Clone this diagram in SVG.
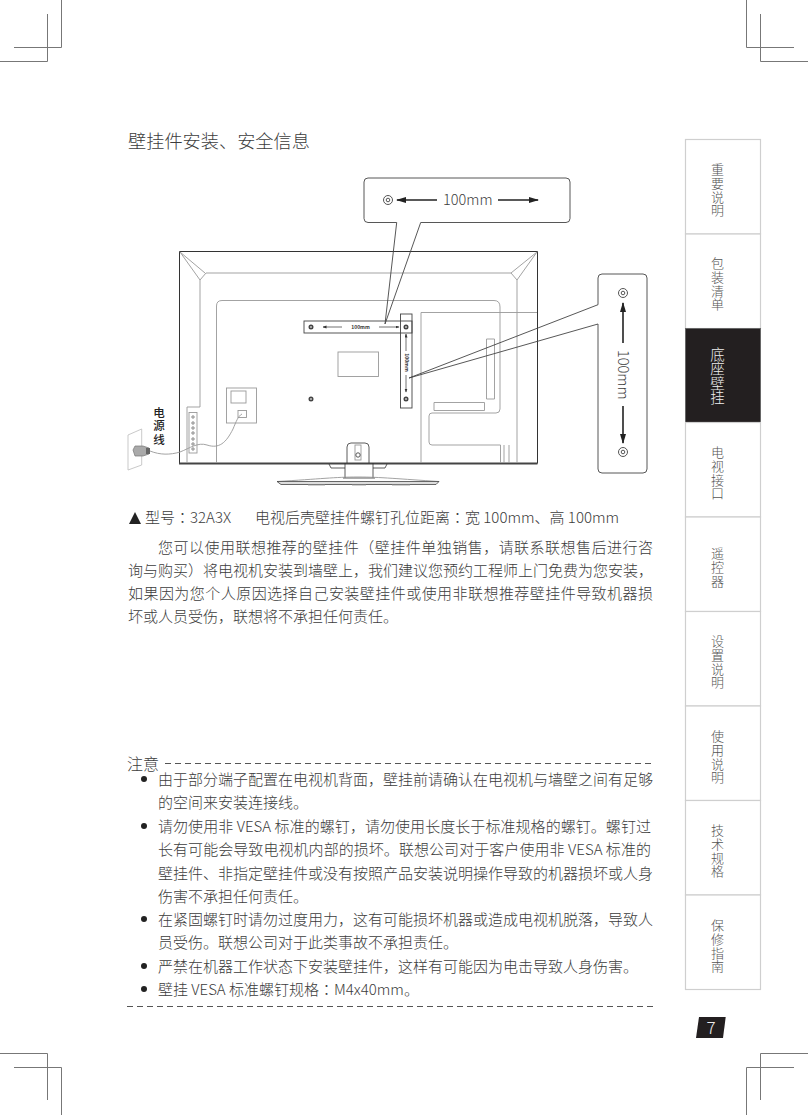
<svg xmlns="http://www.w3.org/2000/svg" width="808" height="1115" viewBox="0 0 808 1115">
<style>
text{font-family:"Noto Sans CJK SC","Noto Sans",sans-serif;fill:#3c3c3c;font-size:15px;font-weight:300}
.crop{fill:none;stroke:#777;stroke-width:1}
.tab{fill:#fff;stroke:#cfcfcf;stroke-width:1.2}
.tabt{font-size:13px;fill:#555;writing-mode:vertical-rl;letter-spacing:.65px}
.tc{font-family:"Noto Sans CJK TC","Noto Sans",sans-serif}
.tv{fill:none;stroke:#999;stroke-width:.9}
.tvd{fill:none;stroke:#333;stroke-width:1}
.call{fill:none;stroke:#444;stroke-width:.9}
.arr{stroke:#222;stroke-width:1.6;fill:none}
.arrs{stroke:#333;stroke-width:.7;fill:none}
.dash{stroke:#555;stroke-width:1;stroke-dasharray:6 4;fill:none}
.sc{fill:none;stroke:#555}
.mini{font-size:5px;font-weight:700;text-anchor:middle;fill:#333}
.bul{fill:#222}
.scw{fill:#bbb;stroke:#444;stroke-width:1.400}
</style>
<defs>
<marker id="ah" markerWidth="10" markerHeight="8" refX="9" refY="3" orient="auto" markerUnits="userSpaceOnUse"><path d="M0 0L10 3L0 6Z" fill="#222"/></marker>
<marker id="ahs" markerWidth="4" markerHeight="4" refX="3.5" refY="1.5" orient="auto" markerUnits="userSpaceOnUse"><path d="M0 0L4 1.5L0 3Z" fill="#333"/></marker>
</defs>
<g id="crop-marks">
<path class="crop" d="M61.5 0V47.5H14M47.5 14V61.5H0"/>
<path class="crop" d="M746.5 0V47.5H794M760.5 14V61.5H808"/>
<path class="crop" d="M0 1053.5H47.5V1100M14 1067.5H61.5V1115"/>
<path class="crop" d="M808 1053.5H760.5V1100M794 1067.5H746.5V1115"/>
</g>
<text id="title" x="128" y="148" style="font-size:18.2px">壁挂件安装、安全信息</text>
<g id="tv">
<path class="tvd" d="M179.5 463.5V251.5H537.5V463.5"/>
<path d="M179 463.5H537.5" stroke="#444" stroke-width="1.8" fill="none"/>
<path class="tv" d="M180 252L200 280M537 252L517 280M200 280L206 273H511L517 280M200 280V407H187V463M517 280V463"/>
<path class="tv" d="M180 252L205 273M537 252L511 273"/>
<path class="tv" d="M216.500 463V306Q216.500 300.500 222 300.500H494Q500 300.500 500 307V409Q500 413 496 413H432Q429 413 429 416V442Q429 445 432 445H500.500V463"/>
<path class="tv" d="M421 463V312.500H537M486.500 339H494.500V399H486.500ZM434 402.500H484.500V410.500H434ZM504 445V463M509 445V463"/>
<rect class="tv" x="338" y="352" width="40.500" height="24.500"/>
<rect class="tv" x="226.500" y="388" width="30" height="35"/>
<rect class="tv" x="231" y="391" width="15" height="12"/>
<rect class="tv" x="238" y="410.500" width="8.500" height="7"/>
<rect class="tv" x="189" y="412.500" width="8" height="40.500"/>
<g class="sc" stroke-width=".7"><circle cx="193" cy="417" r="1.200"/><circle cx="193" cy="423" r="1.200"/><circle cx="193" cy="428" r="1.200"/><circle cx="193" cy="433" r="1.200"/><circle cx="193" cy="439" r="1.200"/><circle cx="193" cy="444" r="1.200"/><circle cx="193" cy="449" r="1.200"/></g>
<circle class="scw" cx="311" cy="399" r="1.800"/>
</g>
<g id="stand">
<path class="tvd" d="M347 463V447Q347 443 351 443H365Q369 443 369 447V463M345 463V478M373 463V478M343 478H375M329 464L331 468H345M387 464L385 468H373" style="stroke-width:.8"/>
<rect class="tv" x="355" y="445" width="6" height="15"/>
<circle cx="358" cy="455" r="2.200" fill="none" stroke="#555"/>
<path class="tv" d="M277 481.500C320 479 335 477 358 477C380 477 400 479 439 481.500"/>
<path d="M277 481.500H439L436 484.500H281Z" fill="#ddd" stroke="#444" stroke-width=".8"/>
<path class="tv" d="M308 485H325M352 485H366M392 485H410"/>
</g>
<g id="bracket-h">
<rect x="304" y="321" width="108" height="12" fill="none" stroke="#444" stroke-width=".9"/>
<circle class="scw" cx="311" cy="327" r="1.800"/>
<circle class="scw" cx="406" cy="327" r="1.800"/>
<path class="arrs" marker-end="url(#ahs)" d="M342 327H323"/>
<path class="arrs" marker-end="url(#ahs)" d="M379 327H399"/>
<text class="mini" x="360.500" y="329">100mm</text>
</g>
<g id="bracket-v">
<rect x="400.500" y="314" width="11.500" height="94" fill="none" stroke="#444" stroke-width=".9"/>
<circle class="scw" cx="406" cy="399" r="1.800"/>
<path class="arrs" marker-end="url(#ahs)" d="M406 351V334"/>
<path class="arrs" marker-end="url(#ahs)" d="M406 375V392"/>
<text class="mini" transform="translate(404.500 362.500) rotate(90)" x="0" y="0">100mm</text>
</g>
<g id="callout-h">
<path class="call" d="M420.700 222.500L385 324L396.700 222.500H368Q364 222.500 364 218.500V182Q364 178 368 178H566Q570 178 570 182V218.500Q570 222.500 566 222.500Z"/>
<circle cx="388" cy="200" r="4.500" class="sc" stroke-width="1"/><circle cx="388" cy="200" r="1.800" class="sc" stroke-width="1"/>
<path class="arr" marker-end="url(#ah)" d="M437 200H397"/>
<path class="arr" marker-end="url(#ah)" d="M498 200H538"/>
<text x="443" y="205" style="font-size:14.500px">100mm</text>
</g>
<g id="callout-v">
<path class="call" d="M598 304.700L409 378L598 324V469Q598 473 602 473H643Q647 473 647 469V278Q647 274 643 274H602Q598 274 598 278Z"/>
<circle cx="623" cy="293" r="4.500" class="sc" stroke-width="1"/><circle cx="623" cy="293" r="1.800" class="sc" stroke-width="1"/>
<circle cx="623" cy="452" r="4.500" class="sc" stroke-width="1"/><circle cx="623" cy="452" r="1.800" class="sc" stroke-width="1"/>
<path class="arr" marker-end="url(#ah)" d="M623 343V303"/>
<path class="arr" marker-end="url(#ah)" d="M623 406V443"/>
<text transform="translate(618 350) rotate(90)" x="0" y="0" style="font-size:14.500px">100mm</text>
</g>
<g id="power">
<path d="M128 435L141.700 429V465L128 470Z" fill="none" stroke="#bbb" stroke-width=".8"/>
<path d="M133 450L135 446H143L149 448V454L143 456H135Z" fill="#aaa" stroke="#777" stroke-width=".7"/>
<path d="M146 448H150V454H146Z" fill="#666"/>
<path class="tv" d="M150 451C160 455 170 455 180 452C190 448 198 442 207 445C219 449 226 443 233 429C236 422 238 416 242 414"/>
<text x="159" y="407" style="font-size:11.500px;font-weight:500;fill:#222;writing-mode:vertical-rl;letter-spacing:1.800px">电源线</text>
</g>
<g id="model">
<path d="M129 524L135 512L141 524Z" fill="#222"/>
<text x="145" y="522.500">型号<tspan class="tc">：</tspan>32A3X</text>
<text x="255" y="522.500">电视后壳壁挂件螺钉孔位距离<tspan class="tc">：</tspan>宽 100mm、高 100mm</text>
</g>
<g id="intro">
<text x="158" y="553" textLength="495" lengthAdjust="spacing">您可以使用联想推荐的壁挂件（壁挂件单独销售，请联系联想售后进行咨</text>
<text x="128" y="575.500" textLength="525" lengthAdjust="spacing">询与购买）将电视机安装到墙壁上，我们建议您预约工程师上门免费为您安装，</text>
<text x="128" y="599" textLength="525" lengthAdjust="spacing">如果因为您个人原因选择自己安装壁挂件或使用非联想推荐壁挂件导致机器损</text>
<text x="128" y="622">坏或人员受伤，联想将不承担任何责任。</text>
</g>
<g id="notes">
<text x="127" y="769.500" style="font-size:16px">注意</text>
<path class="dash" d="M165 763.500H653"/>
<g class="bul"><circle cx="144" cy="779" r="3"/><circle cx="144" cy="826" r="3"/><circle cx="144" cy="919" r="3"/><circle cx="144" cy="966" r="3"/><circle cx="144" cy="989" r="3"/></g>
<text x="158" y="784.500" textLength="495" lengthAdjust="spacing">由于部分端子配置在电视机背面，壁挂前请确认在电视机与墙壁之间有足够</text>
<text x="158" y="808">的空间来安装连接线。</text>
<text x="158" y="831.500" textLength="493" lengthAdjust="spacing">请勿使用非 VESA 标准的螺钉，请勿使用长度长于标准规格的螺钉。螺钉过</text>
<text x="158" y="855" textLength="493" lengthAdjust="spacing">长有可能会导致电视机内部的损坏。联想公司对于客户使用非 VESA 标准的</text>
<text x="158" y="878.500" textLength="495" lengthAdjust="spacing">壁挂件、非指定壁挂件或没有按照产品安装说明操作导致的机器损坏或人身</text>
<text x="158" y="902">伤害不承担任何责任。</text>
<text x="158" y="925" textLength="495" lengthAdjust="spacing">在紧固螺钉时请勿过度用力，这有可能损坏机器或造成电视机脱落，导致人</text>
<text x="158" y="948">员受伤。联想公司对于此类事故不承担责任。</text>
<text x="158" y="971.500">严禁在机器工作状态下安装壁挂件，这样有可能因为电击导致人身伤害。</text>
<text x="158" y="995">壁挂 VESA 标准螺钉规格<tspan class="tc">：</tspan>M4x40mm。</text>
<path class="dash" d="M127 1006.500H653"/>
</g>
<g id="tab-1"><rect class="tab" x="685.500" y="139.500" width="75" height="94.500"/><text class="tabt" x="717.500" y="163">重要说明</text></g>
<g id="tab-2"><rect class="tab" x="685.500" y="234" width="75" height="94.500"/><text class="tabt" x="717.500" y="257">包装清单</text></g>
<g id="tab-3"><rect x="685.500" y="328.500" width="75" height="94" fill="#231f20" stroke="#666"/><text class="tabt" x="717.500" y="347" style="fill:#eee;font-size:14.500px;letter-spacing:0">底座壁挂</text></g>
<g id="tab-4"><rect class="tab" x="685.500" y="422.500" width="75" height="94.500"/><text class="tabt" x="717.500" y="446">电视接口</text></g>
<g id="tab-5"><rect class="tab" x="685.500" y="517" width="75" height="94.500"/><text class="tabt" x="717.500" y="547">遥控器</text></g>
<g id="tab-6"><rect class="tab" x="685.500" y="611.500" width="75" height="94.500"/><text class="tabt" x="717.500" y="635">设置说明</text></g>
<g id="tab-7"><rect class="tab" x="685.500" y="706" width="75" height="94.500"/><text class="tabt" x="717.500" y="730">使用说明</text></g>
<g id="tab-8"><rect class="tab" x="685.500" y="800.500" width="75" height="94.500"/><text class="tabt" x="717.500" y="824">技术规格</text></g>
<g id="tab-9"><rect class="tab" x="685.500" y="895" width="75" height="94.500"/><text class="tabt" x="717.500" y="919">保修指南</text></g>
<g id="page-number"><path d="M699 1017H725.700L723 1038H696Z" fill="#231f20"/><text x="711" y="1034" text-anchor="middle" style="fill:#eee;font-size:17px">7</text></g>
</svg>
